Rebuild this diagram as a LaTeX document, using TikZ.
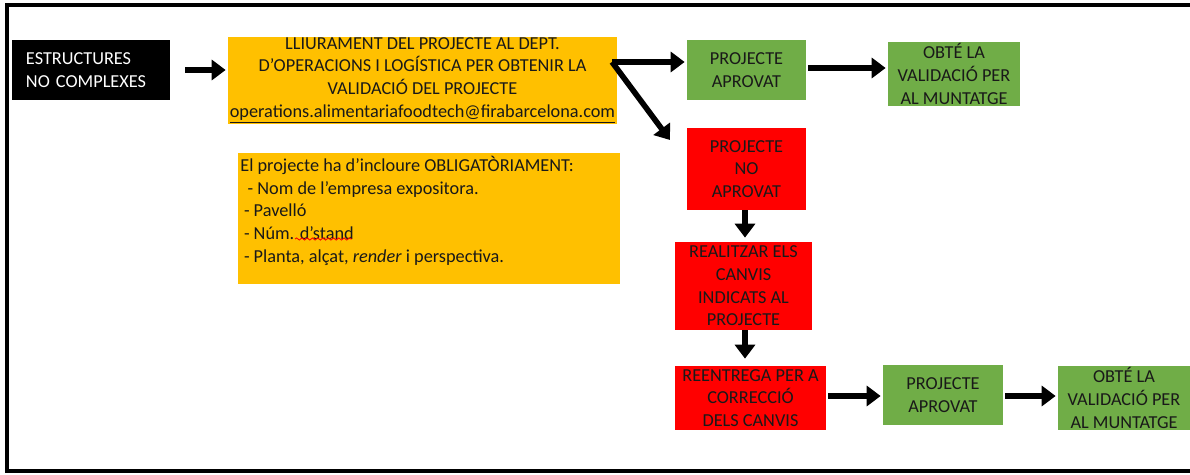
\documentclass[tikz,border=0pt]{standalone}
\usepackage{fontspec}
\setmainfont{Carlito}
\usepackage{tikz}
\tikzset{
font={\fontsize{10.4pt}{12.9pt}\selectfont}}
\usetikzlibrary{positioning}
\usetikzlibrary{arrows.meta}
\usetikzlibrary{decorations.pathmorphing}
\usepackage{xcolor}
\definecolor{boxorange}{HTML}{FFC000}
\definecolor{boxgreen}{HTML}{70AD47}
\definecolor{boxred}{HTML}{FF0000}

\begin{document}
\begin{tikzpicture}[
    box/.style={inner sep=0pt, align=center, text=black!90},
    okbox/.style={box, fill=boxgreen},
    nobox/.style={box, fill=boxred},
    flow/.style={line width=3.2pt, arrows={-{Triangle[length=0.28cm,width=0.40cm]}}}
  ]
    \useasboundingbox (0, 0) rectangle (23.8, -9.5);
    % Outer frame (open on the right)
    \draw [line width=2pt] (23.8, -0.1) -- (0.14, -0.1) -- (0.14, -9.42) -- (23.8, -9.42);

    % Start box
    \node [box, fill=black, text=white, align=left, text width=2.6cm,
      minimum height=1.2cm, inner xsep=0.28cm] (start) at (1.82, -1.40)
      {ESTRUCTURES\\NO COMPLEXES};
    % Delivery box
    \node [box, fill=boxorange, minimum width=7.78cm, minimum height=1.74cm] (deliver) at (8.45, -1.61)
      {LLIURAMENT DEL PROJECTE AL DEPT.\\
       D'OPERACIONS I LOGÍSTICA PER OBTENIR LA\\
       VALIDACIÓ DEL PROJECTE\\
       \underline{operations.alimentariafoodtech@firabarcelona.com}};
    % Requirements box
    \node [box, fill=boxorange, align=left, anchor=north west, inner xsep=0.04cm, inner ysep=0.06cm] (needs) at (4.76, -3.06)
      {\begin{minipage}[t][2.5cm][t]{7.56cm}
       El projecte ha d’incloure OBLIGATÒRIAMENT:\\
       \hspace*{0.4em}- Nom de l'empresa expositora.\\
       \hspace*{0.2em}- Pavelló\\
       \hspace*{0.2em}- Núm. d’stand\\
       \hspace*{0.2em}- Planta, alçat, \textit{render} i perspectiva.
       \end{minipage}};
    % spelling mark under d'stand
    \draw [boxred, line width=0.5pt, decorate, decoration={snake, amplitude=0.6pt, segment length=3pt}]
      (5.90, -4.78) -- (7.04, -4.78);

    % Approved branch
    \node [okbox, minimum width=2.38cm, minimum height=1.2cm] (ok1) at (14.93, -1.40)
      {PROJECTE\\APROVAT};
    \node [okbox, minimum width=2.64cm, minimum height=1.28cm] (valid1) at (19.08, -1.48)
      {OBTÉ LA\\VALIDACIÓ PER\\AL MUNTATGE};

    % Rejected branch
    \node [nobox, minimum width=2.38cm, minimum height=1.64cm] (no) at (14.93, -3.38)
      {PROJECTE\\NO\\APROVAT};
    \node [nobox, minimum width=2.74cm, minimum height=1.76cm] (change) at (14.87, -5.72)
      {REALITZAR ELS\\CANVIS\\INDICATS AL\\PROJECTE};
    \node [nobox, minimum width=3.02cm, minimum height=1.28cm] (resend) at (15.01, -7.96)
      {REENTREGA PER A\\CORRECCIÓ\\DELS CANVIS};
    \node [okbox, minimum width=2.40cm, minimum height=1.2cm] (ok2) at (18.86, -7.90)
      {PROJECTE\\APROVAT};
    \node [okbox, minimum width=2.64cm, minimum height=1.28cm] (valid2) at (22.48, -7.96)
      {OBTÉ LA\\VALIDACIÓ PER\\AL MUNTATGE};

    % Arrows
    \coordinate (split) at (12.24, -1.24);
    \coordinate (notip) at (13.40, -2.80);
    \draw [flow, shorten <=0.3cm, shorten >=0.04cm] (start.east) -- (start.east -| deliver.west);
    \draw [flow, shorten >=0.04cm] (split) -- (split -| ok1.west);
    \draw [flow] (split) -- (notip);
    \draw [flow, shorten <=0.04cm, shorten >=0.04cm] (ok1.east |- 0, -1.36) -- (valid1.west |- 0, -1.36);
    \draw [flow, shorten >=0.08cm] (no.south -| 14.90, 0) -- (change.north -| 14.90, 0);
    \draw [flow, shorten >=0.14cm] (change.south -| 14.90, 0) -- (resend.north -| 14.90, 0);
    \draw [flow, shorten <=0.04cm, shorten >=0.04cm] (resend.east |- 0, -7.92) -- (ok2.west |- 0, -7.92);
    \draw [flow, shorten <=0.04cm, shorten >=0.04cm] (ok2.east |- 0, -7.92) -- (valid2.west |- 0, -7.92);
  \end{tikzpicture}
\end{document}
